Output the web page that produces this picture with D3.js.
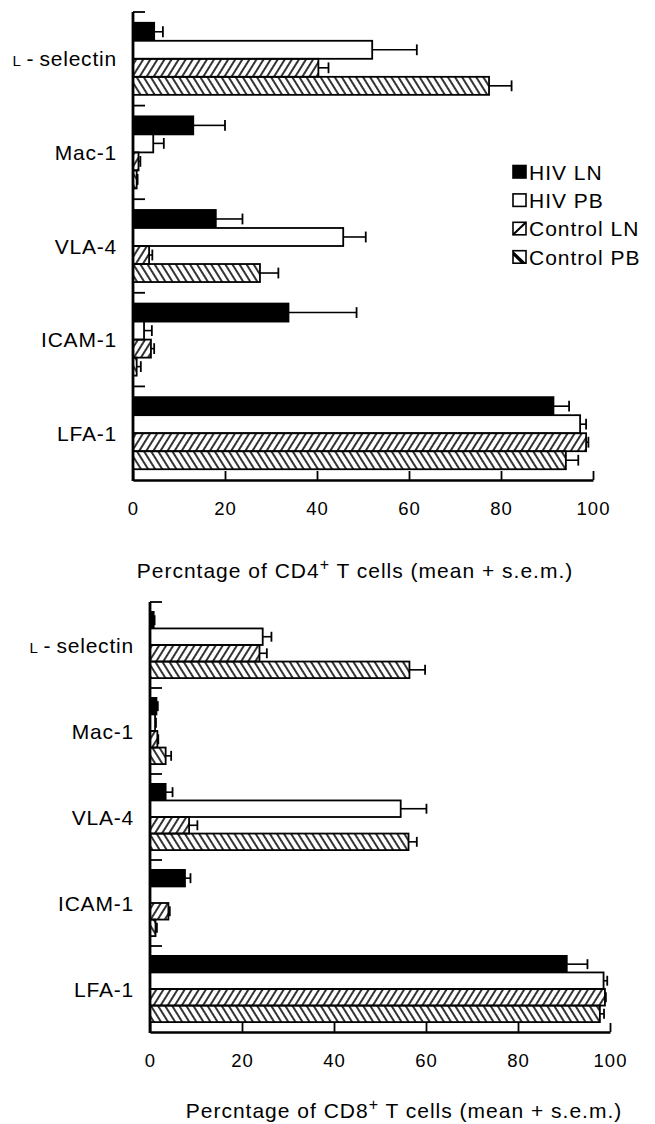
<!DOCTYPE html>
<html>
<head>
<meta charset="utf-8">
<script src="https://cdn.jsdelivr.net/npm/d3@7"></script>
<style>
body{margin:0;background:#fff}
svg{display:block}
text{font-family:"Liberation Sans",Arial,sans-serif;fill:#000}
</style>
</head>
<body>
<svg id="chart" width="655" height="1124"></svg>
<script>
const categories = ['L-selectin','Mac-1','VLA-4','ICAM-1','LFA-1']
const series = ['HIV LN','HIV PB','Control LN','Control PB']
const xTicks = [0,20,40,60,80,100]

// CD4+ panel, mean and s.e.m. per series (order follows categories)
const cd4HivLN = [4.6, 13.1, 18.0, 33.8, 91.4]
const cd4HivPB = [52.0, 4.4, 45.7, 2.4, 97.2]
const cd4CtlLN = [40.3, 1.2, 3.5, 3.9, 98.5]
const cd4CtlPB = [77.4, 0.8, 27.6, 0.8, 94.1]
const cd4HivLNsem = [1.9, 6.9, 5.8, 14.8, 3.4]
const cd4HivPBsem = [9.7, 2.3, 4.9, 1.7, 1.3]
const cd4CtlLNsem = [2.2, 0.4, 0.7, 0.7, 0.5]
const cd4CtlPBsem = [4.9, 0.2, 4.0, 0.9, 2.7]

// CD8+ panel
const cd8HivLN = [0.8, 1.4, 3.4, 7.6, 90.6]
const cd8HivPB = [24.5, 1.1, 54.5, 0, 98.6]
const cd8CtlLN = [23.8, 1.6, 8.5, 4.0, 98.9]
const cd8CtlPB = [56.4, 3.4, 56.2, 1.2, 97.8]
const cd8HivLNsem = [0.2, 0.3, 1.5, 1.2, 4.5]
const cd8HivPBsem = [1.9, 0.2, 5.6, 0, 0.8]
const cd8CtlLNsem = [1.6, 0.2, 1.8, 0.3, 0.2]
const cd8CtlPBsem = [3.4, 1.2, 1.8, 0.3, 0.9]

const fills = ['#000','#fff','url(#hatchF)','url(#hatchB)']

const svg = d3.select('#chart')
const defs = svg.append('defs')

const hatch = (id,ang)=>{
	defs.append('pattern')
		.attr('id',id)
		.attr('patternUnits','userSpaceOnUse')
		.attr('width',6)
		.attr('height',6)
		.attr('patternTransform',`rotate(${ang})`)
		.append('line')
		.attr('x1',3).attr('y1',-1)
		.attr('x2',3).attr('y2',7)
		.attr('stroke','#000')
		.attr('stroke-width',1.6)
}
hatch('hatchF',32)
hatch('hatchB',-32)

const panel = (p)=>{
	const x = d3.scaleLinear().domain([0,100]).range([p.left,p.right])
	const y = d3.scaleBand().domain(categories).range([p.top,p.bottom])
	const bw = y.bandwidth()
	const sub = d3.scaleBand().domain(series).range([bw*0.115,bw*0.885])
	const bh = sub.bandwidth()

	const rows = []
	series.forEach((s,si)=>{
		categories.forEach((c,ci)=>{
			rows.push({s:s,si:si,c:c,v:p.means[si][ci],e:p.sems[si][ci]})
		})
	})

	const g = svg.append('g')

	// bars
	g.selectAll('.bar')
		.data(rows)
		.enter()
		.append('rect')
		.classed('bar',true)
		.attr('x',x(0))
		.attr('y',d=>y(d.c) + sub(d.s))
		.attr('width',d=>x(d.v) - x(0))
		.attr('height',bh)
		.attr('fill',d=>fills[d.si])
		.attr('stroke','#000')
		.attr('stroke-width',1.8)

	// error bars (mean + s.e.m.)
	const cap = bh * 0.6
	const eb = g.selectAll('.err')
		.data(rows.filter(d=>d.e > 0))
		.enter()
		.append('g')
		.classed('err',true)
		.attr('transform',d=>`translate(0,${y(d.c) + sub(d.s) + bh/2})`)
	eb.append('line')
		.attr('x1',d=>x(d.v))
		.attr('x2',d=>x(d.v + d.e))
		.attr('stroke','#000')
		.attr('stroke-width',1.6)
	eb.append('line')
		.attr('x1',d=>x(d.v + d.e))
		.attr('x2',d=>x(d.v + d.e))
		.attr('y1',-cap/2)
		.attr('y2',cap/2)
		.attr('stroke','#000')
		.attr('stroke-width',1.8)

	// x axis, ticks point up into the plot
	g.append('g')
		.attr('transform',`translate(0,${p.bottom})`)
		.call(d3.axisBottom(x).tickValues(xTicks).tickSizeInner(-9).tickSizeOuter(0).tickPadding(22))
		.call(a=>{
			a.attr('font-size',18.5)
			a.select('.domain').attr('stroke-width',2.4)
			a.selectAll('.tick line').attr('stroke-width',1.8)
			a.selectAll('.tick text').attr('letter-spacing','1px')
		})

	// y axis with category ticks at band edges
	g.append('line')
		.attr('x1',x(0)).attr('x2',x(0))
		.attr('y1',p.top).attr('y2',p.bottom + 1)
		.attr('stroke','#000')
		.attr('stroke-width',2.8)
	g.selectAll('.ytick')
		.data(categories)
		.enter()
		.append('line')
		.attr('x1',x(0)).attr('x2',x(0) + 12)
		.attr('y1',d=>y(d)).attr('y2',d=>y(d))
		.attr('stroke','#000')
		.attr('stroke-width',1.8)

	const lab = g.selectAll('.ylab')
		.data(categories)
		.enter()
		.append('text')
		.attr('x',x(0) - 16)
		.attr('y',d=>y(d) + bw/2)
		.attr('dy','0.36em')
		.attr('text-anchor','end')
		.attr('font-size',21)
		.attr('letter-spacing','0.8px')
	lab.each(function(d){
		const t = d3.select(this)
		if(d == 'L-selectin'){
			t.append('tspan').attr('font-size',15).text('L')
			t.append('tspan').attr('dx',5).text('-')
			t.append('tspan').attr('dx',5).text('selectin')
		}else{
			t.text(d)
		}
	})

	// axis title
	const ttl = g.append('text')
		.attr('x',p.titleX)
		.attr('y',p.titleY)
		.attr('text-anchor','middle')
		.attr('font-size',21)
		.attr('letter-spacing','1px')
	ttl.append('tspan').text(`Percntage of ${p.cell}`)
	ttl.append('tspan').attr('font-size',16).attr('dy',-8).text('+')
	ttl.append('tspan').attr('dy',8).text(' T cells (mean + s.e.m.)')

	if(p.legend){
		const lg = g.selectAll('.legend')
			.data(series)
			.enter()
			.append('g')
			.classed('legend',true)
			.attr('transform',(d,i)=>`translate(${p.legend[0]},${p.legend[1] + i*28.4})`)
		lg.append('rect')
			.attr('x',0).attr('y',-6.5)
			.attr('width',13).attr('height',12.5)
			.attr('fill',(d,i)=>i == 0 ? '#000' : '#fff')
			.attr('stroke','#000')
			.attr('stroke-width',1.6)
		lg.filter((d,i)=>i == 2).append('line')
			.attr('x1',0).attr('y1',6).attr('x2',13).attr('y2',-6.5)
			.attr('stroke','#000').attr('stroke-width',2)
		lg.filter((d,i)=>i == 3).append('path')
			.attr('d','M0,-6.5 L13,6 L8,6 L0,-2 Z')
			.attr('fill','#000')
		lg.append('text')
			.attr('x',16)
			.attr('dy','0.36em')
			.attr('font-size',21)
			.attr('letter-spacing','1px')
			.text(d=>d)
	}
}

panel({
	left:133, right:593, top:12, bottom:480,
	means:[cd4HivLN,cd4HivPB,cd4CtlLN,cd4CtlPB],
	sems:[cd4HivLNsem,cd4HivPBsem,cd4CtlLNsem,cd4CtlPBsem],
	cell:'CD4', titleX:355, titleY:578,
	legend:[513,172]
})

panel({
	left:150, right:610, top:602, bottom:1032,
	means:[cd8HivLN,cd8HivPB,cd8CtlLN,cd8CtlPB],
	sems:[cd8HivLNsem,cd8HivPBsem,cd8CtlLNsem,cd8CtlPBsem],
	cell:'CD8', titleX:404, titleY:1118
})
</script>
</body>
</html>
